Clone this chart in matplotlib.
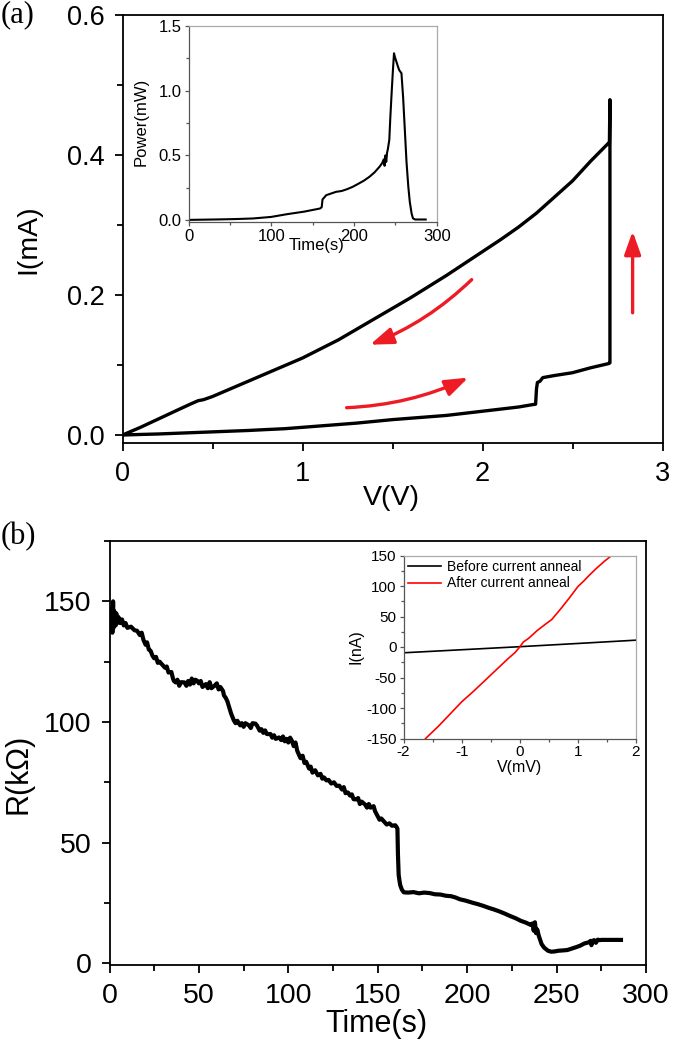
import matplotlib
matplotlib.use('Agg')
import matplotlib.pyplot as plt
from matplotlib.ticker import MultipleLocator, FormatStrFormatter
from matplotlib.patches import FancyArrowPatch

plt.rcParams['font.family'] = ['Liberation Sans', 'DejaVu Sans']
plt.rcParams['axes.unicode_minus'] = False

# ---------------- data: panel (a) I-V sweep ----------------
fwd_V = [0, 0.1, 0.2, 0.3, 0.4, 0.5, 0.6, 0.7, 0.8, 0.9, 1.0, 1.1, 1.2, 1.3, 1.4, 1.5,
         1.6, 1.7, 1.8, 1.9, 2.0, 2.1, 2.2, 2.28, 2.295, 2.300, 2.305, 2.32, 2.335,
         2.4, 2.5, 2.6, 2.7, 2.708]
fwd_I = [0, 0.0008, 0.0015, 0.0025, 0.0035, 0.0045, 0.0055, 0.0065, 0.0078, 0.009,
         0.011, 0.013, 0.015, 0.017, 0.0195, 0.022, 0.024, 0.026, 0.028, 0.031, 0.034,
         0.037, 0.040, 0.0435, 0.044, 0.066, 0.075, 0.077, 0.082, 0.085, 0.089, 0.096,
         0.102, 0.103]
jump_V = [2.708, 2.708, 2.705]
jump_I = [0.103, 0.479, 0.417]
ret_V = [2.7, 2.6, 2.5, 2.4, 2.3, 2.2, 2.1, 2.0, 1.9, 1.8, 1.7, 1.6, 1.5, 1.4, 1.3, 1.2,
         1.1, 1.0, 0.9, 0.8, 0.7, 0.6, 0.5, 0.45, 0.42, 0.38, 0.3, 0.2, 0.1, 0]
ret_I = [0.417, 0.391, 0.363, 0.340, 0.317, 0.297, 0.279, 0.262, 0.245, 0.228, 0.212,
         0.196, 0.181, 0.166, 0.151, 0.136, 0.123, 0.110, 0.099, 0.088, 0.077, 0.066,
         0.055, 0.0505, 0.049, 0.0445, 0.035, 0.023, 0.011, 0]

# ---------------- data: inset (a) power vs time ----------------
pow_t = [0, 20, 40, 60, 78, 100, 119, 140, 159, 161, 162, 166.5, 172, 178.5, 185, 192,
         198.6, 205, 212, 218.7, 225, 230.8, 234, 236, 237, 238, 239, 240, 241, 242.7,
         244, 245.5, 247, 248.4, 249.5, 251, 253, 254.6, 257.4, 259.4, 261.7, 263.5,
         265.7, 267.5, 269.7, 271.4, 274, 280, 286.7]
pow_P = [0.002, 0.004, 0.006, 0.009, 0.013, 0.025, 0.046, 0.066, 0.09, 0.1, 0.16, 0.193,
         0.205, 0.219, 0.225, 0.24, 0.258, 0.28, 0.305, 0.335, 0.37, 0.412, 0.44, 0.47,
         0.42, 0.50, 0.45, 0.52, 0.55, 0.62, 0.80, 0.98, 1.15, 1.289, 1.26, 1.23, 1.19,
         1.16, 1.135, 0.95, 0.67, 0.45, 0.258, 0.14, 0.05, 0.013, 0.005, 0.005, 0.005]

# ---------------- data: panel (b) resistance vs time ----------------
res_t = [1.0, 1.3, 1.6, 2.0, 2.3, 2.6, 3.0, 3.4, 3.8, 4.3, 5, 6, 7, 8, 9, 10, 12, 14,
         15.4, 17, 18, 19, 20.2, 21, 22, 23, 24, 25, 26, 27, 28, 29.8, 31, 32, 33, 34.6,
         35.5, 36, 37, 38, 39, 40, 41.9, 43, 44, 45, 46, 47, 48, 49, 50, 51, 52, 53.9,
         55, 56, 57, 58.7, 60, 61, 62, 63.5, 64, 65, 65.9, 67, 68, 69.5, 70.5, 71.5,
         73.1, 74, 75, 76, 78, 79, 80, 81.6, 82.5, 84, 85, 86, 87, 88, 90, 91, 92, 93,
         94.8, 96, 97, 98, 99, 100, 101, 102, 103, 104, 105, 106.8, 108, 109, 110,
         111.6, 112.5, 113.5, 115, 116.5, 118, 119, 120, 121.3, 122.5, 124, 125.5, 127,
         128.5, 130, 131, 132, 133.3, 134.5, 135.5, 136.5, 138.1, 139, 140, 141, 142.9,
         144, 145, 146, 147.7, 148.5, 149.2, 150.1, 151, 152, 153.7, 155, 156.5, 158,
         159.8, 160.5, 161, 161.3, 161.7, 162.2, 162.6, 163.5, 164.6, 167, 170, 173,
         176, 179, 182, 185, 188, 191, 193.4, 196, 199, 203, 206, 209, 212, 215, 218,
         221, 224, 227, 230, 233, 235.5, 236.5, 237.2, 237.9, 238.5, 239.2, 240, 241.6,
         243, 245.2, 247, 248.8, 251, 253, 256, 259, 261, 263.2, 265.5, 268, 269, 269.5,
         270, 270.4, 271, 272, 273, 274, 275.2, 278, 282, 286]
res_R = [141, 147, 137, 150, 139, 146, 143, 140, 145, 141, 143.5, 141, 142.5, 140, 141,
         139, 139.5, 138, 137.8, 136, 137, 134, 132, 133, 130, 129.5, 127.5, 126.4, 127,
         124.5, 125, 123.5, 122.5, 123, 120.5, 120.7, 118, 117, 116.4, 117.5, 115, 116.5,
         116.4, 115, 117, 115.5, 118, 116, 117.5, 117.1, 116, 117, 114.5, 115.7, 114,
         116.5, 114, 115, 116, 113.5, 114.5, 112.8, 111, 110, 108.6, 106, 103.5, 100.7,
         99.5, 100.5, 98.6, 99.5, 98, 99.5, 98.6, 97.5, 99.5, 99.3, 98.5, 96.4, 97, 95.5,
         96.5, 95, 95, 93.5, 94.5, 93, 93.6, 92.5, 94, 92, 93, 91.5, 93.5, 92.2, 90, 91.5,
         88, 85, 86, 83, 83.5, 80.7, 81.5, 79, 80, 77.9, 78.5, 76.5, 77, 75.8, 76, 74.5,
         75, 73.5, 73.6, 72, 73, 70.5, 70.8, 69.5, 70, 68, 67.9, 68.5, 66, 67, 65.8, 64.5,
         66, 64.5, 65.1, 63, 62, 60.8, 59.5, 60, 58.6, 57.5, 58, 57, 57.2, 56.5, 55.8, 45,
         36.6, 34, 32.3, 30.5, 29.4, 29.3, 29.5, 29, 29.3, 29.1, 28.6, 28.5, 28, 27.8,
         27.3, 26.5, 26, 25.1, 24.5, 23.8, 23, 22.3, 21.5, 20.6, 19.6, 18.7, 17.6, 16.8,
         15.9, 16.5, 13.5, 17, 12.5, 14, 11.5, 8.0, 6.5, 5.2, 4.8, 4.9, 5.2, 5.3, 5.5, 6.2,
         6.7, 7.3, 8.2, 8.7, 9.3, 7.5, 9.3, 9.2, 9.6, 8.5, 9.8, 9.6, 9.7, 9.7, 9.7, 9.7]

# ---------------- data: inset (b) I-V before / after anneal ----------------
before_V = [-2, -1, 0, 1, 2]
before_I = [-9.5, -4.5, 0.5, 5.8, 11.2]
after_V = [-1.62, -1.4, -1.2, -1.0, -0.8, -0.6, -0.4, -0.2, -0.08, 0, 0.06, 0.15, 0.3,
           0.45, 0.55, 0.7, 0.85, 1.0, 1.1, 1.2, 1.32, 1.45, 1.58]
after_I = [-150, -130, -110, -90, -73, -55, -37, -19, -9, 0, 8, 14, 27, 38, 45, 62, 80,
           99, 108, 118, 129, 140, 150]
legend_labels = ['Before current anneal', 'After current anneal']

RED = '#ed1c24'
W, H = 674, 1050
fig = plt.figure(figsize=(W / 100, H / 100), dpi=100)


def ax_px(l, r, t, b):
    return fig.add_axes([l / W, 1 - b / H, (r - l) / W, (b - t) / H])


def style(ax, size, major, minor, lw, pad, col='black'):
    ax.tick_params(which='major', direction='out', length=major, width=lw,
                   labelsize=size, pad=pad, top=False, right=False, color=col)
    ax.tick_params(which='minor', direction='out', length=minor, width=lw,
                   top=False, right=False, color=col)
    for s in ax.spines.values():
        s.set_linewidth(lw)


# ---------------- panel (a) ----------------
ax1 = ax_px(122.5, 662.5, 15, 443)
ax1.plot(fwd_V + jump_V + ret_V, fwd_I + jump_I + ret_I, color='black', lw=2.4,
         solid_joinstyle='round')
ax1.set_xlim(0, 3)
ax1.set_ylim(-0.0114, 0.6)
ax1.xaxis.set_major_locator(MultipleLocator(1))
ax1.xaxis.set_minor_locator(MultipleLocator(0.5))
ax1.yaxis.set_major_locator(MultipleLocator(0.2))
ax1.yaxis.set_minor_locator(MultipleLocator(0.1))
ax1.yaxis.set_major_formatter(FormatStrFormatter('%.1f'))
style(ax1, 19.5, 6, 4, 1.3, 7)
ax1.set_xlabel('V(V)', fontsize=20.5)
ax1.set_ylabel('I(mA)', fontsize=20.5)
ax1.xaxis.set_label_coords(0.498, -0.098)
ax1.yaxis.set_label_coords(-0.151, 0.477)

arrow_kw = dict(arrowstyle='-|>,head_length=0.7,head_width=0.25', mutation_scale=20,
                color=RED, lw=2.4, shrinkA=0, shrinkB=0)
ax1.add_patch(FancyArrowPatch((1.94, 0.222), (1.375, 0.129),
                              connectionstyle='arc3,rad=-0.1', **arrow_kw))
ax1.add_patch(FancyArrowPatch((1.245, 0.039), (1.921, 0.082),
                              connectionstyle='arc3,rad=0.1', **arrow_kw))
ax1.add_patch(FancyArrowPatch((2.834, 0.1746), (2.834, 0.291),
                              connectionstyle='arc3,rad=0', **arrow_kw))

fig.text(1 / W, 1 - 0 / H, '(a)', family='Liberation Serif', fontsize=22,
         ha='left', va='top')

# ---------------- inset (a) ----------------
ax1i = ax_px(188.5, 436.7, 26, 221.7)
ax1i.plot(pow_t, pow_P, color='black', lw=1.5)
ax1i.set_xlim(0, 300)
ax1i.set_ylim(-0.012, 1.5)
ax1i.xaxis.set_major_locator(MultipleLocator(100))
ax1i.xaxis.set_minor_locator(MultipleLocator(50))
ax1i.yaxis.set_major_locator(MultipleLocator(0.5))
ax1i.yaxis.set_minor_locator(MultipleLocator(0.25))
ax1i.yaxis.set_major_formatter(FormatStrFormatter('%.1f'))
style(ax1i, 12, 3, 2, 0.9, 2, col='#555555')
ax1i.tick_params(labelcolor='black')
for k in ('top', 'right'):
    ax1i.spines[k].set_color('#aaaaaa')
for k in ('left', 'bottom'):
    ax1i.spines[k].set_color('#555555')
ax1i.set_xlabel('Time(s)', fontsize=12)
ax1i.set_ylabel('Power(mW)', fontsize=12)
ax1i.xaxis.set_label_coords(0.5165, -0.084)
ax1i.yaxis.set_label_coords(-0.159, 0.51)

# ---------------- panel (b) ----------------
ax2 = ax_px(109.5, 646, 541, 964.5)
ax2.plot(res_t, res_R, color='black', lw=3.0, solid_joinstyle='round')
ax2.set_xlim(0, 300)
ax2.set_ylim(-0.5, 175)
ax2.xaxis.set_major_locator(MultipleLocator(50))
ax2.xaxis.set_minor_locator(MultipleLocator(25))
ax2.yaxis.set_major_locator(MultipleLocator(50))
ax2.yaxis.set_minor_locator(MultipleLocator(25))
style(ax2, 20.5, 6, 4, 1.3, 7)
ax2.set_xlabel('Time(s)', fontsize=22)
ax2.set_ylabel('R(k\u03a9)', fontsize=22)
ax2.xaxis.set_label_coords(0.498, -0.106)
ax2.yaxis.set_label_coords(-0.142, 0.45)

fig.text(1 / W, 1 - 522 / H, '(b)', family='Liberation Serif', fontsize=22,
         ha='left', va='top')

# ---------------- inset (b) ----------------
ax2i = ax_px(403.5, 636, 555.5, 738.5)
ax2i.plot(before_V, before_I, color='black', lw=1.2, label=legend_labels[0])
ax2i.plot(after_V, after_I, color='#ff0000', lw=1.2, label=legend_labels[1])
ax2i.set_xlim(-2, 2)
ax2i.set_ylim(-150, 150)
ax2i.xaxis.set_major_locator(MultipleLocator(1))
ax2i.xaxis.set_minor_locator(MultipleLocator(0.5))
ax2i.yaxis.set_major_locator(MultipleLocator(50))
ax2i.yaxis.set_minor_locator(MultipleLocator(25))
style(ax2i, 11, 3, 2, 0.9, 2, col='#555555')
for k in ('top', 'right'):
    ax2i.spines[k].set_color('#aaaaaa')
for k in ('left', 'bottom'):
    ax2i.spines[k].set_color('#555555')
ax2i.set_xlabel('V(mV)', fontsize=11.5)
ax2i.set_ylabel('I(nA)', fontsize=11.5)
ax2i.xaxis.set_label_coords(0.5, -0.115)
ax2i.yaxis.set_label_coords(-0.17, 0.5)
ax2i.legend(loc='upper left', frameon=False, fontsize=10, handlelength=2.4,
            handletextpad=0.4, borderaxespad=0.1, borderpad=0.2, labelspacing=0.2)

fig.savefig('out.png', dpi=100)
